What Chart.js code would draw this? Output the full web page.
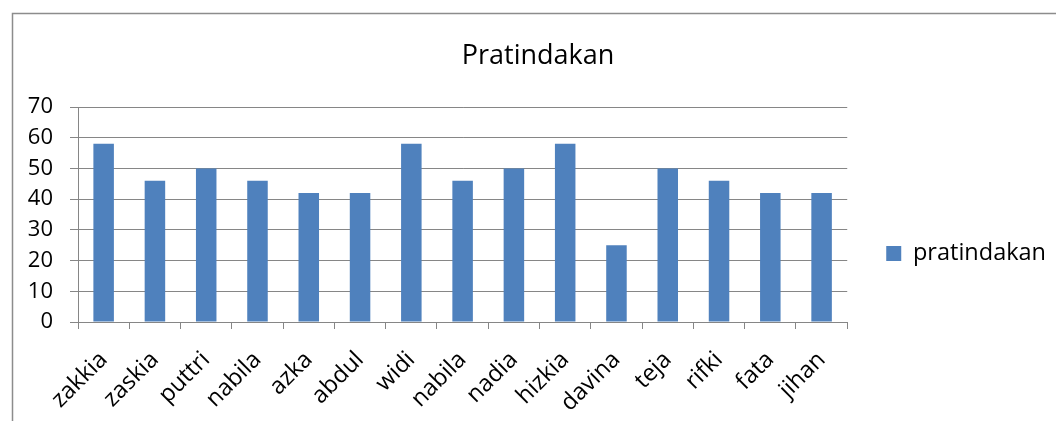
<!DOCTYPE html>
<html>
<head>
<meta charset="utf-8">
<script src="https://cdn.jsdelivr.net/npm/chart.js@4.4.1/dist/chart.umd.min.js"></script>
<style>
  html, body { margin: 0; padding: 0; background: #ffffff; }
  #wrap { position: relative; width: 1056px; height: 421px; }
</style>
</head>
<body>
<div id="wrap"><canvas id="c" width="1056" height="421"></canvas></div>
<script>
const chartTitle = 'Pratindakan';
const seriesName = 'pratindakan';
const categories = ['zakkia', 'zaskia', 'puttri', 'nabila', 'azka', 'abdul', 'widi', 'nabila', 'nadia', 'hizkia', 'davina', 'teja', 'rifki', 'fata', 'jihan'];
const values = [58, 46, 50, 46, 42, 42, 58, 46, 50, 58, 25, 50, 46, 42, 42];
const yTicks = [0, 10, 20, 30, 40, 50, 60, 70];

const FONT = '"Open Sans", "Noto Sans", sans-serif';
const GRID = '#868686';
const BAR = '#4F81BD';

const framePlugin = {
  id: 'frame',
  beforeDraw(chart) {
    const ctx = chart.ctx;
    ctx.save();
    ctx.strokeStyle = '#8c8c8c';
    ctx.lineWidth = 1.5;
    ctx.strokeRect(12.5, 13.5, 1100, 500);
    ctx.restore();
  }
};

new Chart(document.getElementById('c'), {
  type: 'bar',
  data: {
    labels: categories,
    datasets: [{
      label: seriesName,
      data: values,
      backgroundColor: BAR,
      borderWidth: 0,
      barPercentage: 0.4,
      categoryPercentage: 1.0
    }]
  },
  options: {
    responsive: false,
    animation: false,
    devicePixelRatio: 1,
    layout: { padding: { left: 20, right: 0, top: 0, bottom: 0 } },
    plugins: {
      title: {
        display: true,
        text: chartTitle,
        color: '#000000',
        font: { family: FONT, size: 27, weight: 'normal', lineHeight: 1.2 },
        padding: { top: 40, bottom: 34.6 }
      },
      legend: {
        display: true,
        position: 'right',
        align: 'center',
        title: { display: true, text: '', font: { family: FONT, size: 22, lineHeight: 1.2 }, padding: { top: 0, bottom: 59.6 } },
        labels: {
          boxWidth: 15,
          boxHeight: 15,
          padding: 39,
          color: '#000000',
          font: { family: FONT, size: 23.5 }
        }
      },
      tooltip: { enabled: false }
    },
    scales: {
      x: {
        offset: true,
        grid: { display: true, offset: true, drawOnChartArea: false, drawTicks: true, tickLength: 7, color: GRID, lineWidth: 1 },
        border: { display: true, color: GRID, width: 1 },
        ticks: {
          minRotation: 45, maxRotation: 45, autoSkip: false,
          padding: 17,
          color: '#000000',
          font: { family: FONT, size: 23.5 }
        },
        afterFit(scale) { scale.height = 99; }
      },
      y: {
        min: 0, max: 70,
        afterBuildTicks(scale) { scale.ticks = yTicks.map(v => ({ value: v })); },
        grid: { display: true, drawTicks: true, tickLength: 8, color: GRID, lineWidth: 1 },
        border: { display: true, color: GRID, width: 1 },
        ticks: {
          padding: 17,
          color: '#000000',
          font: { family: FONT, size: 22 }
        },
        afterFit(scale) { scale.width = 58; }
      }
    }
  },
  plugins: [framePlugin]
});
</script>
</body>
</html>
